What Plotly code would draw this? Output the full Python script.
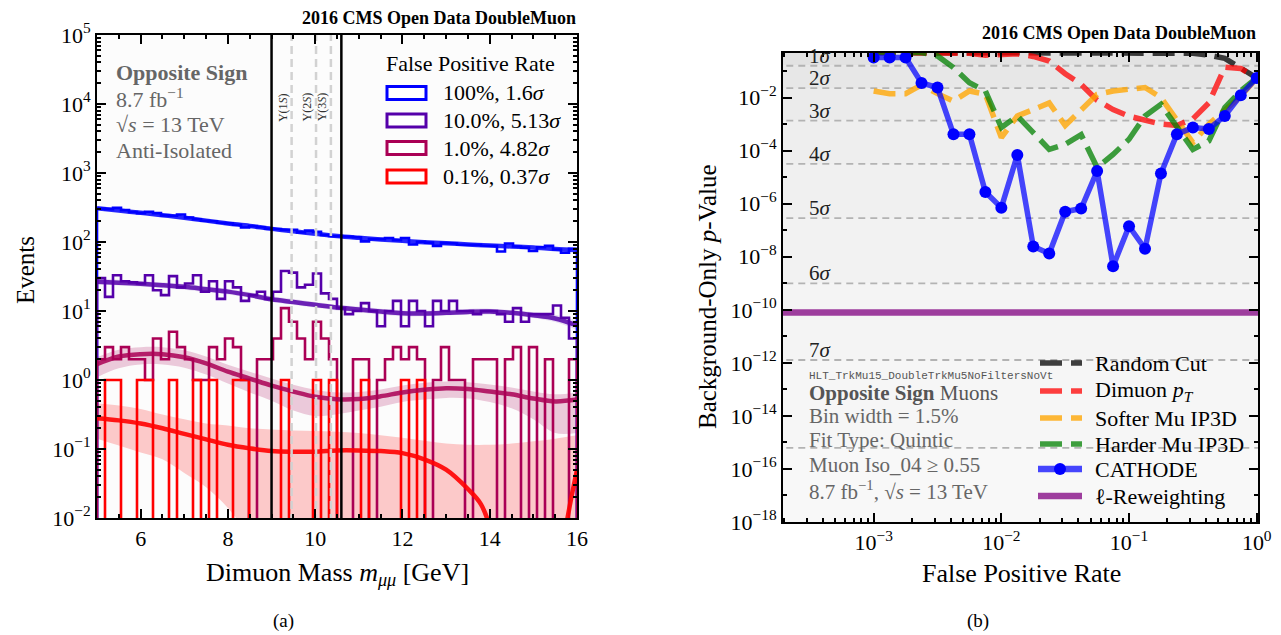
import math
import plotly.graph_objects as go

# The page places the figure 8 px from the top-left corner; size it so that it
# exactly fills the 1281x635 window.
OFFSET = 8
W, H = 1281 - OFFSET, 635 - OFFSET
FONT = "Liberation Serif"

# ---------------- Panel (a): dimuon mass spectra ----------------
MASS_MIN, MASS_MAX = 5.0, 16.0
legend_a_labels = ["100%, 1.6<i>σ</i>", "10.0%, 5.13<i>σ</i>", "1.0%, 4.82<i>σ</i>", "0.1%, 0.37<i>σ</i>"]

counts_100 = [305, 300, 312, 290, 272, 262, 275, 262, 243, 240,
              250, 226, 214, 203, 200, 190, 186, 178, 162, 170,
              164, 156, 154, 150, 150, 138, 146, 140, 126, 122,
              120, 119, 117, 102, 110, 110, 114, 106, 114, 92,
              101, 98, 88, 97, 95, 92, 93, 91, 89, 88,
              73, 95, 86, 83, 74, 84, 88, 78, 70, 80]
counts_10 = [30, 16, 33, 27, 26, 25, 33, 20, 17, 32,
             22, 25, 33, 19, 27, 15, 27, 22, 14, 17,
             19, 15, 19, 38, 36, 22, 24, 35, 18, 15,
             11, 9, 10, 13, 10, 6, 10, 14, 6, 14,
             10, 6, 14, 10, 14, 10, 10, 9, 10, 10,
             9, 7, 11, 7, 9, 9, 9, 12, 8, 4]
counts_1 = [2, 3, 2, 3, 2, 2, 1, 4, 2, 5,
            3, 2, 1, 1, 3, 2, 4, 3, 1, 0,
            2, 2, 4, 11, 7, 4, 2, 7, 4, 2,
            0, 0, 2, 2, 0, 1, 2, 3, 2, 3,
            2, 0, 1, 3, 1, 1, 0, 2, 2, 2,
            0, 2, 3, 0, 3, 0, 2, 0, 0, 2]
counts_01 = [0, 1, 1, 0, 0, 1, 1, 0, 0, 1,
             0, 0, 1, 0, 1, 0, 0, 1, 1, 0,
             0, 0, 0, 1, 0, 0, 0, 1, 0, 1,
             0, 0, 0, 1, 0, 0, 0, 0, 1, 0,
             1, 0, 0, 0, 0, 0, 0, 0, 0, 0,
             0, 0, 0, 0, 0, 0, 0, 0, 0, 0]

fit_mass = [5.0, 5.5, 6.0, 6.5, 7.0, 7.5, 8.0, 8.5, 9.0, 9.5, 10.0, 10.5,
            11.0, 11.5, 12.0, 12.5, 13.0, 13.5, 14.0, 14.5, 15.0, 15.5, 16.0]
fit_100 = [309, 286, 265, 245, 224, 204, 186, 171, 155, 143, 132, 122,
           115, 109, 104, 99.5, 96, 92, 89, 86, 83, 79, 76]
fit_10 = [26.6, 25.7, 24.8, 23.7, 22.4, 20.7, 19.1, 17.0, 14.8, 13.5, 12.3, 11.2,
          10.5, 9.8, 9.25, 9.2, 9.4, 9.7, 9.8, 9.4, 8.7, 7.8, 6.2]
fit_10_hi = [29.3, 28.3, 27.3, 26.1, 24.6, 22.8, 21.0, 18.7, 16.3, 14.9, 13.5, 12.3,
             11.6, 10.8, 10.2, 10.1, 10.3, 10.7, 10.8, 10.3, 9.6, 8.8, 7.2]
fit_10_lo = [24.2, 23.4, 22.6, 21.6, 20.4, 18.8, 17.4, 15.5, 13.5, 12.3, 11.2, 10.2,
             9.6, 8.9, 8.4, 8.4, 8.6, 8.8, 8.9, 8.6, 7.9, 6.9, 5.3]
fit_1 = [1.70, 2.19, 2.37, 2.37, 2.14, 1.74, 1.32, 1.05, 0.83, 0.68, 0.57, 0.525,
         0.53, 0.58, 0.66, 0.72, 0.76, 0.74, 0.68, 0.62, 0.54, 0.49, 0.52]
fit_1_hi = [2.14, 2.75, 2.99, 2.99, 2.69, 2.19, 1.66, 1.32, 1.05, 0.85, 0.72, 0.66,
            0.67, 0.73, 0.83, 0.91, 0.95, 0.93, 0.86, 0.78, 0.68, 0.62, 0.66]
fit_1_lo = [1.10, 1.48, 1.68, 1.68, 1.51, 1.20, 0.89, 0.66, 0.50, 0.36, 0.30, 0.32,
            0.36, 0.41, 0.48, 0.52, 0.55, 0.54, 0.48, 0.39, 0.27, 0.17, 0.17]
fit_01_mass = [5.0, 5.5, 6.0, 6.5, 7.0, 7.5, 8.0, 8.5, 9.0, 9.5, 10.0, 10.5,
               11.0, 11.5, 12.0, 12.5, 13.0, 13.5, 13.8, 14.05, 14.5, 15.0, 15.5,
               15.72, 15.85, 15.95, 16.0]
fit_01 = [0.279, 0.260, 0.234, 0.200, 0.166, 0.138, 0.115, 0.102, 0.0933, 0.0912, 0.0912, 0.0955,
          0.0955, 0.0933, 0.0871, 0.0708, 0.0501, 0.0263, 0.0158, 0.006, None, None, None,
          0.006, 0.017, 0.035, 0.05]
fit_01_hi = [0.457, 0.427, 0.380, 0.316, 0.269, 0.234, 0.219, 0.200, 0.191, 0.186, 0.182, 0.178,
             0.170, 0.158, 0.145, 0.132, 0.120, 0.115, 0.115, 0.120, 0.129, 0.141, 0.158]
fit_01_lo = [0.141, 0.112, 0.089, 0.071, 0.045, 0.028, 0.014, 0.005, 0.001, 0.001, 0.001, 0.001,
             0.001, 0.001, 0.001, 0.001, 0.001, 0.001, 0.001, 0.001, 0.001, 0.001, 0.001]

signal_region = [9.0, 10.6]
upsilon_mass = [9.46, 10.02, 10.36]
upsilon_labels = ["Υ(1<i>S</i>)", "Υ(2<i>S</i>)", "Υ(3<i>S</i>)"]
y_tick_exponents_a = [-2, -1, 0, 1, 2, 3, 4, 5]

# ---------------- Panel (b): p-value vs false positive rate ----------------
fpr = [0.001, 0.001334, 0.001778, 0.002371, 0.003162, 0.004217, 0.005623, 0.007499,
       0.01, 0.01334, 0.01778, 0.02371, 0.03162, 0.04217, 0.05623, 0.07499,
       0.1, 0.1334, 0.1778, 0.2371, 0.3162, 0.4217, 0.5623, 0.7499, 1.0]
p_random = [0.5, 0.5, 0.5, 0.5, 0.5, 0.5, 0.5, 0.5, 0.5, 0.5, 0.5, 0.5, 0.5,
            0.5, 0.5, 0.5, 0.5, 0.5, 0.5, 0.49, 0.47, 0.40, 0.30, 0.13, 0.055]
p_dimuon_pt = [0.5, 0.5, 0.5, 0.5, 0.5, 0.5, 0.468, 0.398, 0.417, 0.447, 0.355, 0.24,
               0.0794, 0.0316, 7.9e-3, 3.55e-3, 2.0e-3, 1.41e-3, 1.0e-3, 8.9e-4,
               1.58e-3, 6.3e-3, 0.141, 0.126, 0.055]
p_softer_ip3d = [0.0178, 0.0141, 0.0141, 0.0300, 0.0141, 7.4e-3, 0.0178, 0.0132,
                 3.1e-4, 2.04e-3, 3.55e-3, 6.3e-3, 8.9e-4, 3.6e-3, 0.0132, 0.0178,
                 0.0204, 0.024, 0.01, 1.32e-3, 2.0e-4, 1.0e-3, 3.16e-3, 0.0112, 0.055]
p_harder_ip3d = [0.5, 0.5, 0.5, 0.5, 0.372, 0.135, 0.0363, 0.0178, 7.4e-4, 2.04e-3,
                 4.8e-4, 1.12e-4, 1.74e-4, 4.0e-4, 2.3e-5, 7.2e-5, 2.7e-4, 2.04e-3,
                 5.6e-3, 8.5e-4, 1.12e-4, 2.3e-4, 4.2e-3, 0.0178, 0.055]
p_cathode = [0.324, 0.324, 0.324, 0.0355, 0.024, 4.17e-4, 4.17e-4, 2.75e-6, 7.1e-7,
             6.8e-5, 2.45e-8, 1.32e-8, 5.0e-7, 6.6e-7, 1.7e-5, 4.4e-9, 1.41e-7, 2.0e-8,
             1.38e-5, 4.17e-4, 7.4e-4, 6.6e-4, 2.04e-3, 0.0123, 0.055]
p_l_reweighting = 7.9e-11
sigma_labels = ["1<i>σ</i>", "2<i>σ</i>", "3<i>σ</i>", "4<i>σ</i>", "5<i>σ</i>", "6<i>σ</i>", "7<i>σ</i>", "8<i>σ</i>"]
sigma_pvalues = [0.1587, 0.02275, 1.35e-3, 3.167e-5, 2.867e-7, 9.866e-10, 1.280e-12, 6.221e-16]
legend_b_labels = ["Random Cut", "Dimuon <i>p</i><sub><i>T</i></sub>", "Softer Mu IP3D",
                   "Harder Mu IP3D", "CATHODE", "ℓ-Reweighting"]
y_tick_exponents_b = [-18, -16, -14, -12, -10, -8, -6, -4, -2]
x_tick_exponents_b = [-3, -2, -1, 0]

# ---------------- styles ----------------
C100, C10, C1, C01 = "rgb(0,0,255)", "rgb(85,0,170)", "rgb(170,0,85)", "rgb(255,0,0)"
HIST_COLORS = [C100, C10, C1, C01]
B_COLORS = ["rgba(0,0,0,0.75)", "rgba(255,0,0,0.75)", "rgba(255,165,0,0.78)",
            "rgba(0,128,0,0.75)", "rgba(0,0,255,0.72)", "rgba(128,0,128,0.75)"]
DASH = "22px,9px"
FLOOR = 1e-5


def PX(x):
    return (x - OFFSET) / W


def PY(y):
    return 1 - (y - OFFSET) / H


def pow_label(e):
    return "10<sup>%s</sup>" % (str(e).replace("-", "−"))


def step_xy(counts):
    w = (MASS_MAX - MASS_MIN) / len(counts)
    xs, ys = [MASS_MIN], [FLOOR]
    for i, c in enumerate(counts):
        v = c if c > 0 else FLOOR
        xs += [MASS_MIN + i * w, MASS_MIN + (i + 1) * w]
        ys += [v, v]
    xs.append(MASS_MAX)
    ys.append(FLOOR)
    return xs, ys


fig = go.Figure()

# --- bands panel (a)
for lo, hi, col in [(fit_10_lo, fit_10_hi, "rgba(85,0,170,0.13)"),
                    (fit_1_lo, fit_1_hi, "rgba(170,0,85,0.2)"),
                    (fit_01_lo, fit_01_hi, "rgba(255,0,0,0.2)")]:
    fig.add_trace(go.Scatter(x=fit_mass, y=lo, mode="lines", line=dict(width=0, shape="spline"),
                             hoverinfo="skip", xaxis="x", yaxis="y"))
    fig.add_trace(go.Scatter(x=fit_mass, y=hi, mode="lines", line=dict(width=0, shape="spline"),
                             fill="tonexty", fillcolor=col, hoverinfo="skip", xaxis="x", yaxis="y"))

# --- histograms
for counts, col in zip([counts_100, counts_10, counts_1, counts_01], HIST_COLORS):
    xs, ys = step_xy(counts)
    fig.add_trace(go.Scatter(x=xs, y=ys, mode="lines", line=dict(color=col, width=2.6),
                             xaxis="x", yaxis="y"))

# --- fits
for ys, col in [(fit_100, "rgba(0,0,255,0.85)"), (fit_10, "rgba(85,0,170,0.85)"),
                (fit_1, "rgba(170,0,85,0.85)")]:
    fig.add_trace(go.Scatter(x=fit_mass, y=ys, mode="lines",
                             line=dict(color=col, width=4.5, shape="spline"), xaxis="x", yaxis="y"))
fig.add_trace(go.Scatter(x=fit_01_mass, y=fit_01, mode="lines", connectgaps=False,
                         line=dict(color="rgba(255,0,0,0.9)", width=4.5, shape="spline"),
                         xaxis="x", yaxis="y"))

# --- signal region and Upsilon lines
for m in upsilon_mass:
    fig.add_trace(go.Scatter(x=[m, m], y=[1e-3, 1e6], mode="lines",
                             line=dict(color="#d2d2d2", width=2.5, dash="8px,5px"),
                             xaxis="x", yaxis="y"))
for m in signal_region:
    fig.add_trace(go.Scatter(x=[m, m], y=[1e-3, 1e6], mode="lines",
                             line=dict(color="black", width=2.5), xaxis="x", yaxis="y"))

# --- panel (b) background bands
bounds = [1.0] + sigma_pvalues + [1e-20]
grays = ["#e2e2e2", "#e7e7e7", "#ebebeb", "#eeeeee", "#f0f0f0", "#f2f2f2", "#f4f4f4", "#f6f6f6", "#f8f8f8"]
for i, g in enumerate(grays):
    top, bot = bounds[i], bounds[i + 1]
    fig.add_trace(go.Scatter(x=[1e-5, 10, 10, 1e-5, 1e-5], y=[top, top, bot, bot, top],
                             mode="lines", fill="toself", fillcolor=g, line=dict(width=0),
                             hoverinfo="skip", xaxis="x2", yaxis="y2"))
for p in sigma_pvalues:
    fig.add_trace(go.Scatter(x=[1e-5, 10], y=[p, p], mode="lines",
                             line=dict(color="#b3b3b3", width=1.8, dash="7px,5px"),
                             xaxis="x2", yaxis="y2"))

# --- panel (b) curves
for ys, col in zip([p_random, p_dimuon_pt, p_softer_ip3d, p_harder_ip3d], B_COLORS[:4]):
    fig.add_trace(go.Scatter(x=fpr, y=ys, mode="lines",
                             line=dict(color=col, width=5.5, dash=DASH), xaxis="x2", yaxis="y2"))
fig.add_trace(go.Scatter(x=fpr, y=p_cathode, mode="lines+markers",
                         line=dict(color=B_COLORS[4], width=5.5),
                         marker=dict(color="rgb(0,0,255)", size=12), xaxis="x2", yaxis="y2"))
fig.add_trace(go.Scatter(x=[1e-5, 10], y=[p_l_reweighting, p_l_reweighting], mode="lines",
                         line=dict(color=B_COLORS[5], width=6.5), xaxis="x2", yaxis="y2"))

# ---------------- annotations & shapes ----------------
ann = []
shapes = []


def text(x, y, s, size=18, color="black", xanchor="left", yanchor="middle", family=FONT, angle=0):
    ann.append(dict(x=PX(x), y=PY(y), xref="paper", yref="paper", text=s, showarrow=False,
                    xanchor=xanchor, yanchor=yanchor, textangle=angle,
                    font=dict(family=family, size=size, color=color)))


# titles
text(578, 18, "<b>2016 CMS Open Data DoubleMuon</b>", size=18, xanchor="right")
text(1258, 33, "<b>2016 CMS Open Data DoubleMuon</b>", size=18, xanchor="right")
# panel (a) text block
text(114, 72, "<b>Opposite Sign</b>", size=22, color="#666666")
text(114, 98, "8.7 fb<sup>−1</sup>", size=22, color="#666666")
text(114, 124, "√<i>s</i> = 13 TeV", size=22, color="#666666")
text(114, 150, "Anti-Isolated", size=22, color="#666666")
# panel (a) legend
text(470, 64, "False Positive Rate", size=22, xanchor="center")
leg_rows = [93, 120.5, 148, 176.5]
for yc, col, lab in zip(leg_rows, HIST_COLORS, legend_a_labels):
    shapes.append(dict(type="rect", xref="paper", yref="paper", x0=PX(387), x1=PX(426),
                       y0=PY(yc - 6.5), y1=PY(yc + 6.5), line=dict(color=col, width=3),
                       fillcolor="white"))
    text(441, yc, lab, size=22)
# Upsilon labels
for m, lab in zip(upsilon_mass, upsilon_labels):
    ann.append(dict(x=m - 0.2, y=math.log10(9000), xref="x", yref="y", text=lab, showarrow=False,
                    textangle=-90, xanchor="center", yanchor="middle",
                    font=dict(family=FONT, size=12, color="#333333")))
# axis titles
text(25, 270, "Events", size=25, xanchor="center", angle=-90)
text(337, 574, "Dimuon Mass <i>m</i><sub><i>μμ</i></sub> [GeV]", size=26, xanchor="center")
text(707, 297, "Background-Only <i>p</i>-Value", size=25, xanchor="center", angle=-90)
text(1021, 573, "False Positive Rate", size=26, xanchor="center")
text(283, 621, "(a)", size=19, xanchor="center")
text(978, 621, "(b)", size=19, xanchor="center")

# sigma labels
for lab, p in zip(sigma_labels[:7], sigma_pvalues[:7]):
    ann.append(dict(x=-3.52, y=math.log10(p), xref="x2", yref="y2", text=lab, showarrow=False,
                    xanchor="left", yanchor="bottom", yshift=-4,
                    font=dict(family=FONT, size=21, color="#222222")))

# panel (b) text block
text(807, 376, "HLT_TrkMu15_DoubleTrkMu5NoFiltersNoVt", size=11, color="#555555",
     family="Liberation Mono")
text(807, 393, "<b>Opposite Sign</b> Muons", size=21, color="#555555")
text(807, 416, "Bin width = 1.5%", size=21, color="#666666")
text(807, 440, "Fit Type: Quintic", size=21, color="#666666")
text(807, 465, "Muon Iso_04 ≥ 0.55", size=21, color="#666666")
text(807, 490, "8.7 fb<sup>−1</sup>, √<i>s</i> = 13 TeV", size=21, color="#666666")

# panel (b) legend
rows_b = [363, 391, 418, 444, 469, 496]
for i, (yc, col, lab) in enumerate(zip(rows_b, B_COLORS, legend_b_labels)):
    if i < 4:
        shapes.append(dict(type="line", xref="paper", yref="paper", x0=PX(1040), x1=PX(1082),
                           y0=PY(yc), y1=PY(yc), line=dict(color=col, width=5.5, dash=DASH)))
    else:
        shapes.append(dict(type="line", xref="paper", yref="paper", x0=PX(1038), x1=PX(1082),
                           y0=PY(yc), y1=PY(yc), line=dict(color=col, width=6.5)))
    if i == 4:
        shapes.append(dict(type="circle", xref="paper", yref="paper", x0=PX(1054), x1=PX(1066),
                           y0=PY(yc + 6), y1=PY(yc - 6), line=dict(width=0), fillcolor="rgb(0,0,255)"))
    text(1093, yc, lab, size=22)

axis_common = dict(showline=True, linecolor="black", linewidth=2, mirror="allticks",
                   ticks="inside", ticklen=9, tickwidth=1.5, tickcolor="black",
                   showgrid=False, zeroline=False, automargin=False,
                   tickfont=dict(family=FONT, size=22, color="black"))

fig.update_layout(
    width=W, height=H, autosize=False,
    margin=dict(l=0, r=0, t=0, b=0, pad=0, autoexpand=False),
    paper_bgcolor="white", plot_bgcolor="#fcfcfc", showlegend=False,
    annotations=ann, shapes=shapes,
    xaxis=dict(domain=[PX(97), PX(577)], range=[MASS_MIN, MASS_MAX], anchor="y",
               tick0=0, dtick=2,
               minor=dict(ticks="inside", ticklen=4, dtick=0.5, tick0=0, tickcolor="black"),
               **axis_common),
    yaxis=dict(domain=[PY(518), PY(35)], type="log", range=[-2, 5], anchor="x",
               tickmode="array", tickvals=[10 ** e for e in y_tick_exponents_a],
               ticktext=[pow_label(e) for e in y_tick_exponents_a],
               minor=dict(ticks="inside", ticklen=4, dtick="D1", tickcolor="black"),
               **axis_common),
    xaxis2=dict(domain=[PX(783), PX(1258)], type="log", range=[-3.71, 0.01], anchor="y2",
                tickmode="array", tickvals=[10 ** e for e in x_tick_exponents_b],
                ticktext=[pow_label(e) for e in x_tick_exponents_b],
                minor=dict(ticks="inside", ticklen=4, dtick="D1", tickcolor="black"),
                **axis_common),
    yaxis2=dict(domain=[PY(522), PY(52.5)], type="log", range=[-18, -0.3], anchor="x2",
                tickmode="array", tickvals=[10 ** e for e in y_tick_exponents_b],
                ticktext=[pow_label(e) for e in y_tick_exponents_b],
                minor=dict(ticks="inside", ticklen=4, dtick=1, tickcolor="black"),
                **axis_common),
)

fig.write_html("out.html")
